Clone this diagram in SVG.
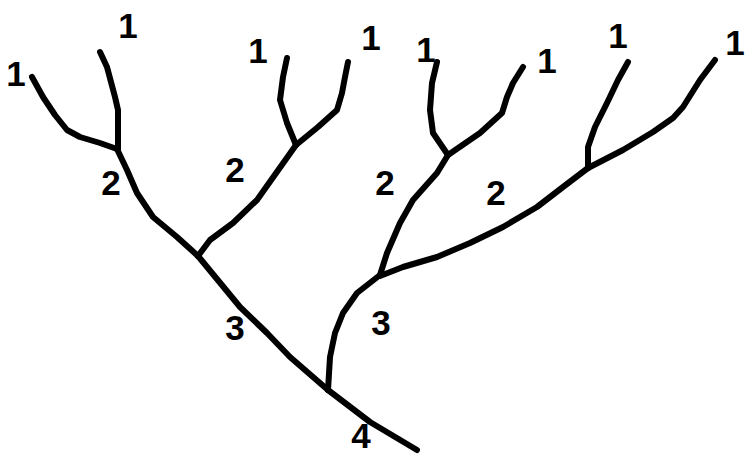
<svg xmlns="http://www.w3.org/2000/svg" width="746" height="454" viewBox="0 0 746 454">
<style>
.s{fill:none;stroke:#000;stroke-width:6;stroke-linecap:round;stroke-linejoin:round}
.t{font-family:"Liberation Sans",Arial,sans-serif;font-weight:bold;font-size:35px;fill:#000;text-anchor:middle}
</style>
<rect width="746" height="454" fill="#fff"/>
<g id="connectors">
<polyline class="s" points="32,77 43,97 55,115 67,130 80,137 100,143 117,149"/>
<polyline class="s" points="100,52 107,67 115,97 118,110 118,149"/>
<polyline class="s" points="117,149 127,170 137,193 153,217 177,237 198,256"/>
<polyline class="s" points="287,58 283,77 280,100 287,123 296,145"/>
<polyline class="s" points="348,62 345,77 342,93 337,110 318,127 296,145"/>
<polyline class="s" points="296,145 257,200 233,223 210,240 198,256"/>
<polyline class="s" points="198,256 240,307 267,333 290,357 328,390"/>
<polyline class="s" points="328,390 370,422 417,450"/>
<polyline class="s" points="437,62 432,83 430,110 433,133 448,155"/>
<polyline class="s" points="523,67 513,83 507,97 502,113 480,133 448,155"/>
<polyline class="s" points="448,155 437,173 413,200 400,223 387,253 380,275"/>
<polyline class="s" points="380,275 357,293 343,313 335,333 330,357 328,390"/>
<polyline class="s" points="628,62 618,80 607,103 595,127 588,147 588,168"/>
<polyline class="s" points="715,60 700,80 683,107 673,118 653,132 623,150 588,168"/>
<polyline class="s" points="588,168 563,187 537,207 503,227 470,243 437,257 403,267 380,276"/>
</g>
<g id="n1a"><text class="t" x="16" y="86">1</text></g>
<g id="n1b"><text class="t" x="128" y="38">1</text></g>
<g id="n1c"><text class="t" x="258" y="63">1</text></g>
<g id="n1d"><text class="t" x="371" y="50">1</text></g>
<g id="n1e"><text class="t" x="426" y="62">1</text></g>
<g id="n1f"><text class="t" x="547" y="73">1</text></g>
<g id="n1g"><text class="t" x="618" y="48">1</text></g>
<g id="n1h"><text class="t" x="735" y="55">1</text></g>
<g id="n2a"><text class="t" x="111" y="195">2</text></g>
<g id="n2b"><text class="t" x="235" y="182">2</text></g>
<g id="n2c"><text class="t" x="385" y="195">2</text></g>
<g id="n2d"><text class="t" x="496" y="205">2</text></g>
<g id="n3a"><text class="t" x="235" y="340">3</text></g>
<g id="n3b"><text class="t" x="381" y="335">3</text></g>
<g id="n4"><text class="t" x="361" y="448">4</text></g>
</svg>
